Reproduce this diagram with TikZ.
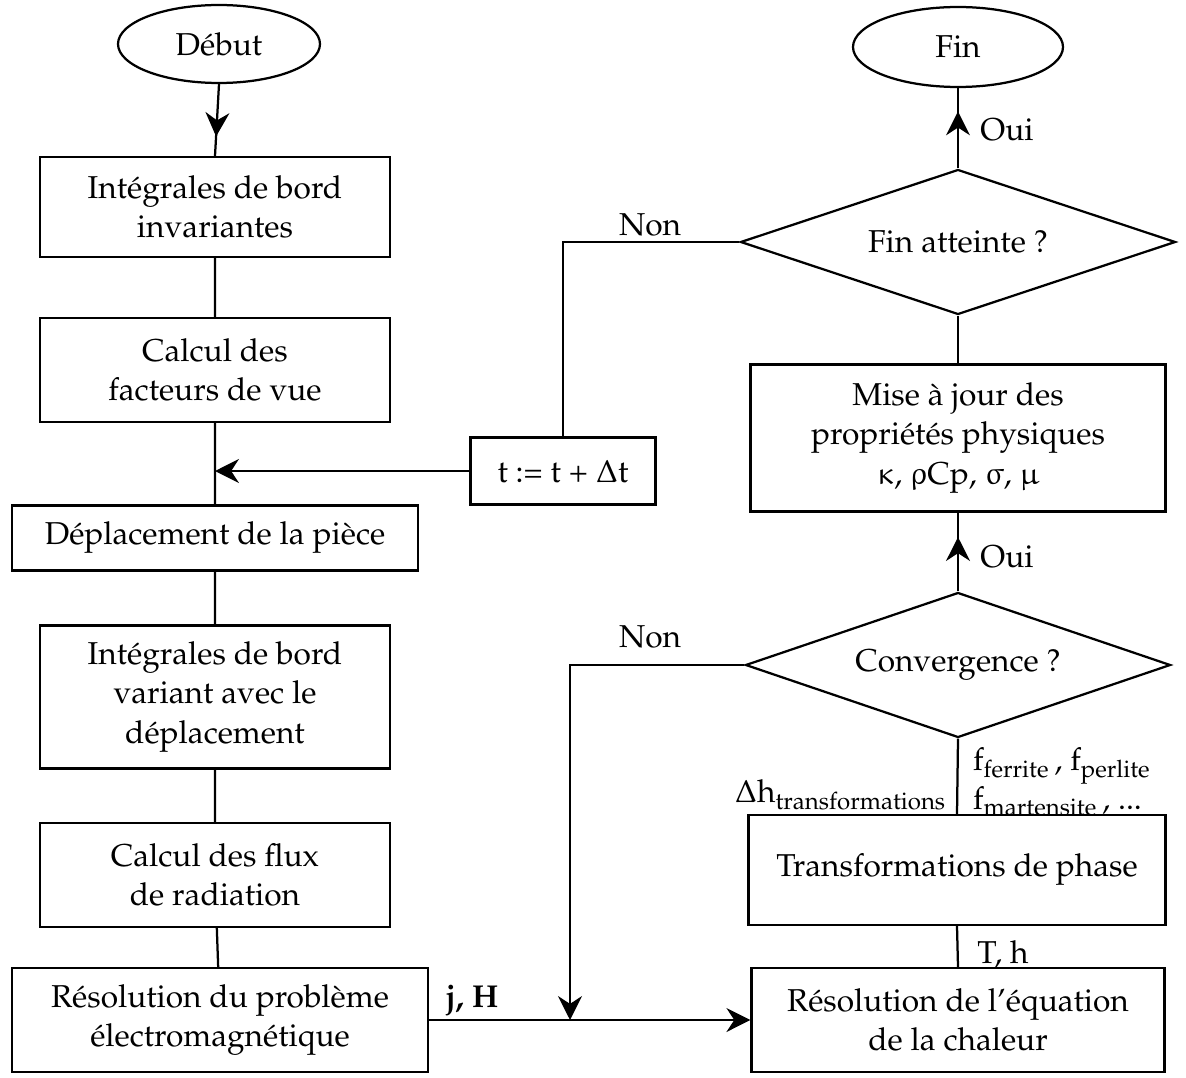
\documentclass[tikz,border=0pt]{standalone}
\usepackage[T1]{fontenc}
\usepackage{mathpazo}
\usepackage{upgreek}
\usetikzlibrary{arrows.meta}
\usetikzlibrary{shapes.geometric}
\usetikzlibrary{decorations.markings}
\tikzset{
        every picture/.style={line width=1.6pt, >={Stealth[length=17pt,width=17pt]}},
        stepnode/.style={align=center, inner sep=0pt, font=\fontsize{22.5}{28}\selectfont},
        % Size in pixels of the drawing grid
        px_size/.style 2 args={minimum width=#1*0.25mm, minimum height=#2*0.25mm},
        % Start / end ellipses
        node_term/.style={stepnode, ellipse, draw=black},
        % Process boxes
        node_box/.style={stepnode, rectangle, draw=black},
        % Tests
        node_test/.style={stepnode, diamond, aspect=3, draw=black},
        % Labels on connectors
        node_label/.style={stepnode},
        % Arrow tip in the middle of a line
        mid_arrow/.style={postaction={decorate}, decoration={markings,
            mark=at position #1 with {\arrow{Stealth[length=17pt,width=17pt]}}}}
}
\begin{document}
\begin{tikzpicture}[x=0.25mm, y=-0.25mm]
            \useasboundingbox (0,0) rectangle (1186,1077);
            % left column
            \node[node_term, px_size={202}{78}] (debut) at (219,44) {Début};
            \node[node_box, px_size={350}{100}] (bordinv) at (215,207) {Intégrales de bord\\invariantes};
            \node[node_box, px_size={350}{104}] (facteurs) at (215,370) {Calcul des\\facteurs de vue};
            \node[node_box, px_size={406}{65}] (deplace) at (215,538) {Déplacement de la pièce};
            \node[node_box, px_size={350}{143}] (bordvar) at (215,697) {Intégrales de bord\\variant avec le\\déplacement};
            \node[node_box, px_size={350}{104}] (flux) at (215,875) {Calcul des flux\\de radiation};
            \node[node_box, px_size={416}{104}] (electro) at (220,1020) {Résolution du problème\\électromagnétique};
            \node[node_box, px_size={185}{67}] (pas) at (563,471) {t := t + $\Delta$t};
            % right column
            \node[node_term, px_size={210}{80}] (fin) at (958,47) {Fin};
            \node[node_test, px_size={435}{145}] (finatt) at (958,242) {Fin atteinte ?};
            \node[node_box, px_size={415}{147}] (majprop) at (958,438) {Mise à jour des\\propriétés physiques\\$\upkappa$, $\uprho$Cp, $\upsigma$, $\upmu$};
            \node[node_test, px_size={425}{145}] (conv) at (958,665) {Convergence ?};
            \node[node_box, px_size={417}{110}] (transf) at (957,870) {Transformations de phase};
            \node[node_box, px_size={413}{104}] (chaleur) at (958,1020) {Résolution de l'équation\\de la chaleur};
            \coordinate (retour) at (facteurs.south |- pas.west);
            \coordinate (entree) at (570,1020);
            % connectors
            \draw[mid_arrow=0.73] (debut.south) -- (bordinv.north);
            \draw (bordinv) -- (facteurs) (facteurs) -- (deplace) (deplace) -- (bordvar) (bordvar) -- (flux) (flux) -- (electro);
            \draw[->] (pas.west) -- (retour);
            \draw (finatt.west) -| (pas.north);
            \draw[mid_arrow=0.71] (finatt.north) -- (fin.south);
            \draw (majprop.north) -- (finatt.south);
            \draw[mid_arrow=0.69] (conv.north) -- (majprop.south);
            \draw[->] (conv.west) -| (entree);
            \draw (conv.south) -- (transf.north);
            \draw (transf.south) -- (chaleur.north);
            \draw[->] (electro.east) -- (chaleur.west);
            % labels
            \node[node_label] (non1) at (650,225) {Non};
            \node[node_label] (oui1) at (1007,130) {Oui};
            \node[node_label] (oui2) at (1007,557) {Oui};
            \node[node_label] (non2) at (650,637) {Non};
            \node[node_label, anchor=east] (dh) at (947,795) {$\Delta$h\textsubscript{transformations}};
            \node[node_label, anchor=west, align=left] (fracs) at (972,782) {f\textsubscript{ferrite}\,, f\textsubscript{perlite}\\f\textsubscript{martensite}\,, ...};
            \node[node_label] (th) at (1003,955) {T, h};
            \node[node_label] (jh) at (472,1000) {\textbf{j, H}};
        \end{tikzpicture}
\end{document}
